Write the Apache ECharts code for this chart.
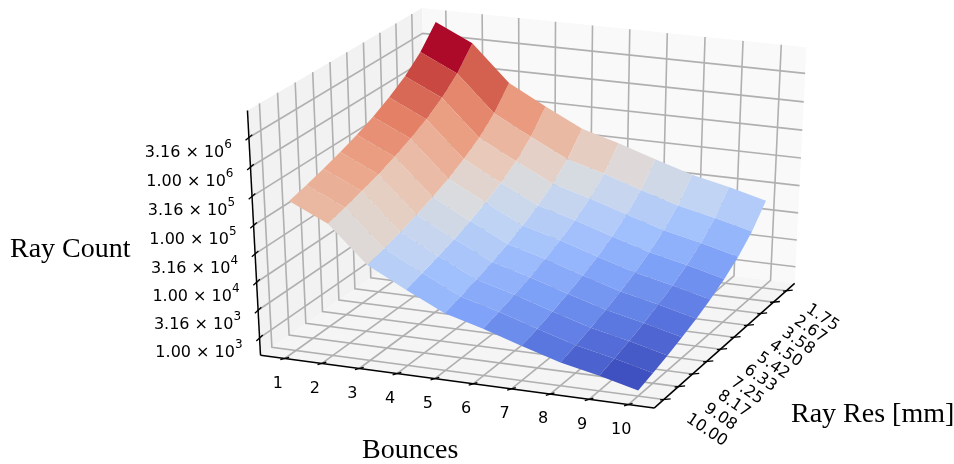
<!DOCTYPE html>
<html><head><meta charset="utf-8">
<style>html,body{margin:0;padding:0;background:#fff}#c{width:954px;height:464px}</style>
<script src="https://cdn.jsdelivr.net/npm/echarts@6/dist/echarts.min.js"></script>
</head><body><div id="c"></div>
<script>
// ---------- data ----------
const bounces = [1,2,3,4,5,6,7,8,9,10];
const rayRes = [1.75,2.67,3.58,4.50,5.42,6.33,7.25,8.17,9.08,10.00];
const rayResLabels = ['1.75','2.67','3.58','4.50','5.42','6.33','7.25','8.17','9.08','10.00'];
const zTicks = [1e3,3.16e3,1e4,3.16e4,1e5,3.16e5,1e6,3.16e6];
const zMantissa = ['1.00','3.16','1.00','3.16','1.00','3.16','1.00','3.16'];
const zExponent = ['3','3','4','4','5','5','6','6'];
// ray count per bounce count, one list per ray resolution
const rays175 = [7.18e6,3.50e6,8.04e5,3.60e5,1.68e5,1.09e5,6.65e4,4.16e4,2.95e4,2.00e4];
const rays267 = [3.09e6,1.51e6,3.46e5,1.55e5,7.23e4,4.69e4,2.86e4,1.79e4,1.27e4,8.61e3];
const rays358 = [1.71e6,8.35e5,1.92e5,8.59e4,4.01e4,2.60e4,1.59e4,9.92e3,7.04e3,4.77e3];
const rays450 = [1.09e6,5.29e5,1.22e5,5.44e4,2.54e4,1.65e4,1.01e4,6.29e3,4.46e3,3.02e3];
const rays542 = [7.50e5,3.65e5,8.39e4,3.76e4,1.75e4,1.14e4,6.94e3,4.34e3,3.08e3,2.09e3];
const rays633 = [5.49e5,2.67e5,6.14e4,2.75e4,1.28e4,8.33e3,5.08e3,3.18e3,2.25e3,1.53e3];
const rays725 = [4.19e5,2.04e5,4.69e4,2.10e4,9.79e3,6.35e3,3.88e3,2.43e3,1.72e3,1.17e3];
const rays817 = [3.30e5,1.61e5,3.69e4,1.65e4,7.71e3,5.00e3,3.05e3,1.91e3,1.35e3,9.18e2];
const rays908 = [2.66e5,1.30e5,2.98e4,1.34e4,6.23e3,4.04e3,2.47e3,1.54e3,1.09e3,7.42e2];
const rays1000 = [2.20e5,1.07e5,2.46e4,1.10e4,5.14e3,3.34e3,2.03e3,1.27e3,9.03e2,6.12e2];
const rayCounts = [rays175,rays267,rays358,rays450,rays542,rays633,rays725,rays817,rays908,rays1000];

// ---------- 3D box limits ----------
const bounceLim = [0.344,10.656];
const resLim = [1.1485,10.601];
const logLim = [2.686,6.952];
// camera
const elev = 27*Math.PI/180, azim = -68*Math.PI/180, dist = 10;
const se=Math.sin(elev), ce=Math.cos(elev), sa=Math.sin(azim), ca=Math.cos(azim);
const nV=[ce*ca,ce*sa,se], uV=[-sa,ca,0], vV=[-se*ca,-se*sa,ce];
const dot=(a,b)=>a[0]*b[0]+a[1]*b[1]+a[2]*b[2];
function view(X,Y,Z){
  const q=[X-.5,Y-.5,Z-.5], d=dot(nV,q), w=dist-d;
  return [dot(uV,q)/w, dot(vV,q)/w, d];
}
const wX=b=>(b-bounceLim[0])/(bounceLim[1]-bounceLim[0]);
const wY=r=>(resLim[1]-r)/(resLim[1]-resLim[0]);
const wZ=c=>(Math.log10(c)-logLim[0])/(logLim[1]-logLim[0]);
// view plane to canvas: the hidden cartesian axes carry this
const sx=4194,tx=534,sy=2696,ty=201,W=954,H=464;

// coolwarm colormap, evenly spaced stops
const coolwarm=['#3b4cc0','#5977e3','#7b9ff9','#9ebeff','#c0d4f5','#dddcdc','#f2cbb7','#f7ac8e','#ee8468','#d65244','#b40426']
  .map(h=>[1,3,5].map(k=>parseInt(h.slice(k,k+2),16)));
function cmap(t){
  t=Math.max(0,Math.min(1,t));
  const warm=1-.04*Math.max(0,Math.min(1,(t-.5)/.15)), s=t*(coolwarm.length-1);
  const i=Math.min(coolwarm.length-2,Math.floor(s)),f=s-i,a=coolwarm[i],b=coolwarm[i+1];
  return `rgb(${a.map((v,k)=>Math.round(((v+(b[k]-v)*f)*.97+200*.03)*warm)).join(',')})`;
}

// ---------- surface cells ----------
let cells=[];
for(let j=0;j<rayRes.length-1;j++)for(let i=0;i<bounces.length-1;i++){
  const idx=[[j,i],[j,i+1],[j+1,i+1],[j+1,i]];
  const pts=idx.map(([a,b])=>view(wX(bounces[b]),wY(rayRes[a]),wZ(rayCounts[a][b])));
  const avg=idx.reduce((s,[a,b])=>s+Math.log10(rayCounts[a][b]),0)/4;
  cells.push({pts,avg,d:pts.reduce((s,p)=>s+p[2],0)/4});
}
const aMin=Math.min(...cells.map(c=>c.avg)),aMax=Math.max(...cells.map(c=>c.avg));
cells.forEach(c=>c.fill=cmap((c.avg-aMin)/(aMax-aMin)));
cells.sort((a,b)=>a.d-b.d);

// ---------- panes, grid, axes ----------
const panes=[
 {c:[[0,0,0],[0,1,0],[0,1,1],[0,0,1]],fill:'#f2f2f2'},
 {c:[[0,1,0],[1,1,0],[1,1,1],[0,1,1]],fill:'#f9f9f9'},
 {c:[[0,0,0],[1,0,0],[1,1,0],[0,1,0]],fill:'#f5f5f5'}
];
const gridPaths=[];
bounces.forEach(b=>{const x=wX(b);gridPaths.push([[x,0,0],[x,1,0],[x,1,1]]);});
rayRes.forEach(r=>{const y=wY(r);gridPaths.push([[1,y,0],[0,y,0],[0,y,1]]);});
zTicks.forEach(c=>{const z=wZ(c);gridPaths.push([[0,0,z],[0,1,z],[1,1,z]]);});
const axisPaths=[[[0,0,0],[1,0,0]],[[1,0,0],[1,1,0]],[[0,0,0],[0,0,1]]];
const tickPaths=[];
bounces.forEach(b=>{const x=wX(b);tickPaths.push([[x-.006,-.012,0],[x+.006,.012,0]]);});
rayRes.forEach(r=>{const y=wY(r);tickPaths.push([[1-.007,y-.006,0],[1+.013,y+.0105,0]]);});
zTicks.forEach(c=>{const z=wZ(c);tickPaths.push([[0,-.018,z-.003],[0,.018,z+.003]]);});

const FONT='"DejaVu Sans"';
const labels=[];
bounces.forEach(b=>labels.push({p:[wX(b),0,0],dx:-7,dy:25,text:String(b),align:'center',rot:0}));
rayRes.forEach((r,i)=>labels.push({p:[1,wY(r),0],dx:36+i*.75,dy:27+i*.42,text:rayResLabels[i],align:'center',rot:-34}));
zTicks.forEach((c,i)=>labels.push({p:[0,0,wZ(c)],dx:-17,dy:12,text:`{n|${zMantissa[i]} × 10}{s|${zExponent[i]}}`,align:'right',rot:0}));

const toPt=(api,c)=>{const v=view(c[0],c[1],c[2]);return api.coord([v[0],v[1]]);};
function layer(name,z,items,draw){
  return {type:'custom',name,coordinateSystem:'cartesian2d',clip:false,silent:true,animation:false,z,
    data:items.map((_,i)=>[i]),encode:{x:[],y:[]},
    renderItem:(p,api)=>draw(items[p.dataIndex],api)};
}
const option={
  animation:false,
  backgroundColor:'#ffffff',
  grid:{left:0,top:0,width:W,height:H,show:false},
  xAxis:{type:'value',show:false,min:(0-tx)/sx,max:(W-tx)/sx},
  yAxis:{type:'value',show:false,min:(ty-H)/sy,max:ty/sy},
  series:[
    layer('panes',1,panes,(it,api)=>({type:'polygon',shape:{points:it.c.map(c=>toPt(api,c))},style:{fill:it.fill}})),
    layer('grid',2,gridPaths,(it,api)=>({type:'polyline',shape:{points:it.map(c=>toPt(api,c))},style:{stroke:'#b0b0b0',lineWidth:1.6,fill:null}})),
    layer('surface',3,cells,(it,api)=>({type:'polygon',shape:{points:it.pts.map(v=>api.coord([v[0],v[1]]))},style:{fill:it.fill}})),
    layer('axes',4,axisPaths,(it,api)=>({type:'polyline',shape:{points:it.map(c=>toPt(api,c))},style:{stroke:'#000',lineWidth:1.5,fill:null}})),
    layer('ticks',5,tickPaths,(it,api)=>({type:'polyline',shape:{points:it.map(c=>toPt(api,c))},style:{stroke:'#000',lineWidth:1.3,fill:null}})),
    layer('labels',6,labels,(it,api)=>{
      const o=toPt(api,it.p);
      return {type:'text',x:o[0]+it.dx,y:o[1]+it.dy,rotation:it.rot*Math.PI/180,
        style:{text:it.text,align:it.align,verticalAlign:'middle',fontFamily:FONT,fontSize:16,fill:'#000',
          rich:{n:{fontFamily:FONT,fontSize:16,fill:'#000',lineHeight:22,verticalAlign:'bottom'},
                s:{fontFamily:FONT,fontSize:12,fill:'#000',lineHeight:22,verticalAlign:'top'}}}};
    })
  ],
  graphic:[
    {type:'text',left:10,top:236,style:{text:'Ray Count',fontFamily:'"Liberation Serif"',fontSize:28,fill:'#000'}},
    {type:'text',left:362,top:437,style:{text:'Bounces',fontFamily:'"Liberation Serif"',fontSize:28,fill:'#000'}},
    {type:'text',left:791,top:401,style:{text:'Ray Res [mm]',fontFamily:'"Liberation Serif"',fontSize:28,fill:'#000'}}
  ]
};
const chart=echarts.init(document.getElementById('c'),null,{renderer:'canvas',width:W,height:H});
chart.setOption(option);
</script></body></html>
